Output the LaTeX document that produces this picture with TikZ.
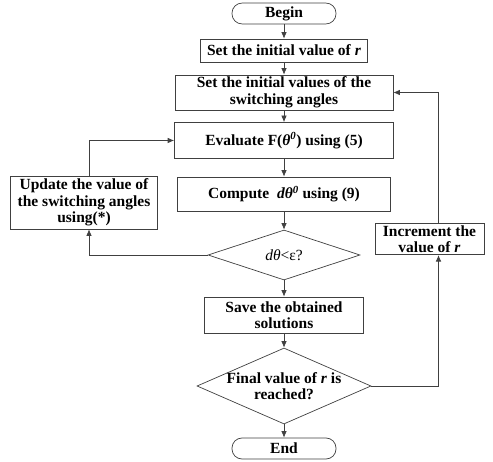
\documentclass[tikz,border=0pt]{standalone}
\usepackage{fontspec}
\setmainfont{Liberation Serif}
\usepackage{tikz}
\usetikzlibrary{shapes,arrows.meta,positioning,calc}
\tikzset{
block/.style = {draw=black!75, line width=0.7pt, fill=white, rectangle, align=center, inner sep=2pt},
term/.style  = {draw=black!75, line width=0.7pt, fill=white, rectangle, rounded corners=10pt, minimum width=104pt, minimum height=20pt},
decision/.style = {draw=black!75, line width=0.7pt, fill=white, diamond, shape aspect=2.5, inner sep=0pt, align=center},
line/.style = {draw=black!75, line width=0.7pt}
}

\begin{document}
\begin{tikzpicture}[auto, node distance=2cm,>={Latex[length=6.5pt,width=5.5pt]}, font=\fontsize{15.5}{16.5}\selectfont\bfseries]
		\useasboundingbox (0,0) rectangle (493pt,-462pt);
		\node [term] (begin) at (284pt,-13.5pt) {Begin};
		\node [block, below of=begin, node distance=37pt, minimum width=167pt, minimum height=23pt] (setr) {Set the initial value of \textit{r}};
		\node [block, below of=setr, node distance=42pt, minimum width=218pt, minimum height=35pt] (setang) {Set the initial values of the\\switching angles};
		\node [block, below of=setang, node distance=48pt, minimum width=219pt, minimum height=36pt] (eval) {Evaluate F(\textit{θ}\textsuperscript{\textit{0}}) using (5)};
		\node [block, below of=eval, node distance=53.5pt, minimum width=213pt, minimum height=34pt] (comp) {Compute \ \textit{dθ}\textsuperscript{\textit{0}} using (9)};
		\node [decision, below of=comp, node distance=61pt, minimum width=152pt, minimum height=50pt] (dec1) {\mdseries\textit{dθ}<ε?};
		\node [block, below of=dec1, node distance=60pt, minimum width=159pt, minimum height=36pt] (save) {Save the obtained\\solutions};
		\node [decision, below of=save, node distance=71pt, minimum width=174pt, minimum height=76pt] (dec2) {\makebox[0pt]{Final value of \textit{r} is}\\\makebox[0pt]{reached?}};
		\node [term, below of=dec2, node distance=62.5pt, minimum height=21pt] (end) {End};

		\node [block, left of=comp, node distance=200pt, yshift=-8.5pt, minimum width=147pt, minimum height=53pt] (update) {Update the value of\\the switching angles\\using(*)};
		\node [block, right of=dec1, node distance=145.5pt, yshift=16pt, minimum width=109pt, minimum height=30pt] (inc) {Increment the\\value of \textit{r}};

		\draw [line,->] (begin) -- (setr);
		\draw [line,->] (setr) -- (setang);
		\draw [line,->] (setang) -- (eval);
		\draw [line,->] (eval) -- (comp);
		\draw [line,->] (comp) -- (dec1);
		\draw [line,->] (dec1) -- (save);
		\draw [line,->] (save) -- (dec2);
		\draw [line,->] (dec2) -- (end);

		\draw [line,->] (dec1.west) -| ([xshift=5pt]update.south);
		\draw [line,->] ([xshift=5pt]update.north) |- (eval.west);
		\draw [line,->] (dec2.east) -| ([xshift=9pt]inc.south);
		\draw [line,->] ([xshift=9pt]inc.north) |- (setang.east);
    \end{tikzpicture}
\end{document}
